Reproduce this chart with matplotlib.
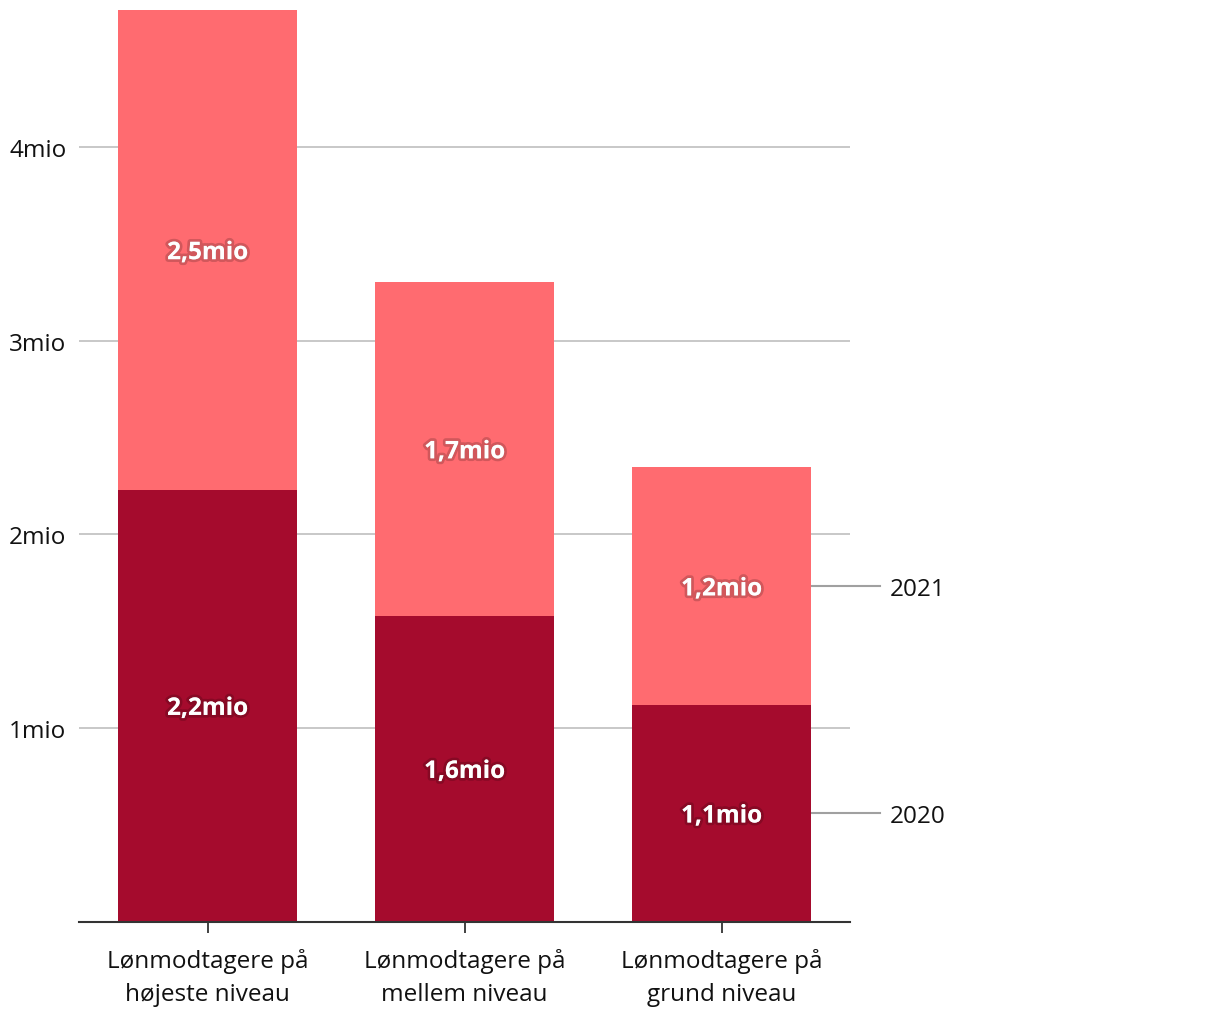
import matplotlib
matplotlib.use("Agg")
import matplotlib.pyplot as plt
import matplotlib.patheffects as pe

categories = ["Lønmodtagere på\nhøjeste niveau", "Lønmodtagere på\nmellem niveau", "Lønmodtagere på\ngrund niveau"]
v2020 = [2.227, 1.576, 1.116]
v2021 = [2.481, 1.726, 1.230]
lab2020 = ["2,2mio", "1,6mio", "1,1mio"]
lab2021 = ["2,5mio", "1,7mio", "1,2mio"]
series = ["2020", "2021"]
yticks = [1, 2, 3, 4]
yticklabels = ["1mio", "2mio", "3mio", "4mio"]

c2020 = "#a50b2d"
c2021 = "#ff6b70"

plt.rcParams['font.family'] = ['Open Sans', 'DejaVu Sans']
FS = 17.5

fig = plt.figure(figsize=(12.2, 10.2), dpi=100)
ax = fig.add_axes([79/1220, 97.5/1020, 771/1220, 911.5/1020])

x = list(range(len(categories)))
w = 0.70
ax.bar(x, v2020, width=w, color=c2020, zorder=2)
ax.bar(x, v2021, width=w, bottom=v2020, color=c2021, zorder=2)

tot = [a + b for a, b in zip(v2020, v2021)]
ax.set_xlim(-0.5, 2.5)
ax.set_ylim(0, max(tot))

shadow = [pe.withStroke(linewidth=4, foreground=(0, 0, 0, 0.18))]
for i in x:
    ax.text(i, v2020[i] / 2, lab2020[i], ha='center', va='center_baseline', color='white',
            fontsize=FS, fontweight='bold', path_effects=shadow, zorder=3)
    ax.text(i, v2020[i] + v2021[i] / 2, lab2021[i], ha='center', va='center_baseline', color='white',
            fontsize=FS, fontweight='bold', path_effects=shadow, zorder=3)

ax.set_yticks(yticks)
ax.set_yticklabels(yticklabels, fontsize=FS, color='#111111')
ax.tick_params(axis='y', length=0, pad=9)
ax.yaxis.grid(True, color='#c4c4c4', linewidth=1.3, zorder=0)
ax.set_axisbelow(True)

ax.set_xticks(x)
ax.set_xticklabels(categories, fontsize=FS, color='#111111', linespacing=1.5)
ax.tick_params(axis='x', length=8, width=1.3, color='#333333', pad=11)

for s in ['top', 'right', 'left']:
    ax.spines[s].set_visible(False)
ax.spines['bottom'].set_color('#333333')
ax.spines['bottom'].set_linewidth(1.5)

# end labels
last = len(categories) - 1
xe = last + w / 2
x_end = (880 - 79) / 257 - 0.5
x_txt = (890 - 79) / 257 - 0.5
ys = [v2020[last] / 2, v2020[last] + v2021[last] / 2]
for yv, name in zip(ys, series):
    ax.plot([xe, x_end], [yv, yv], color='#a0a0a0', linewidth=1.5, clip_on=False, zorder=1)
    ax.text(x_txt, yv, name, ha='left', va='center_baseline', fontsize=FS, color='#111111', clip_on=False)

fig.savefig("out.png", dpi=100)
